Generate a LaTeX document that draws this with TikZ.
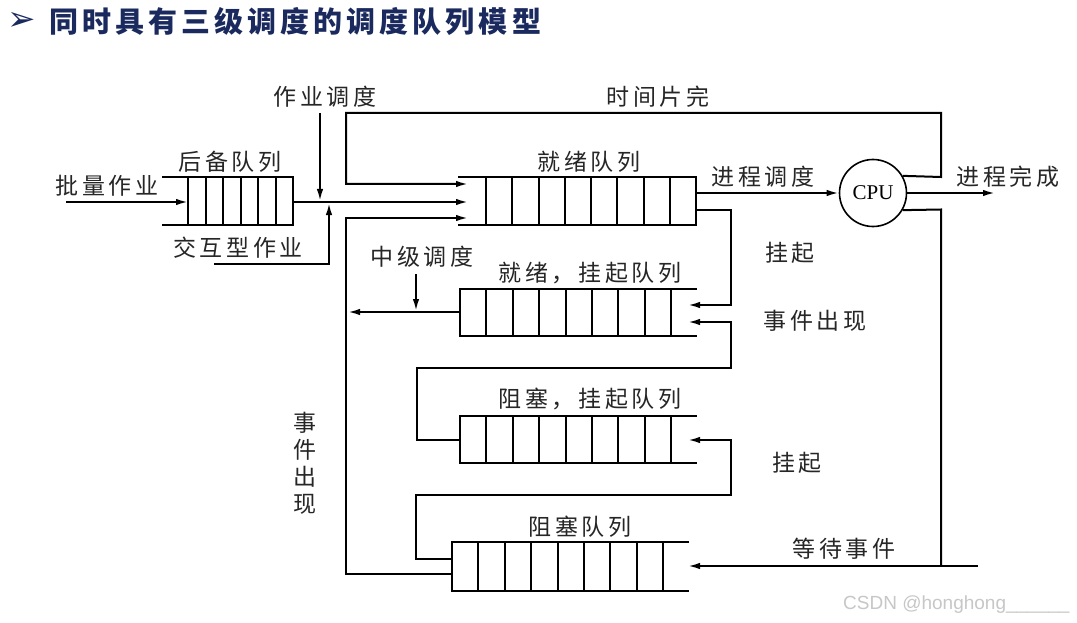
\documentclass[tikz,border=0pt]{standalone}
\usepackage{fontspec}
\usetikzlibrary{arrows.meta}
\newfontfamily\cjkfont{Noto Sans CJK SC}[LetterSpace=16]
\newfontfamily\titlecjk{Noto Sans CJK SC}[LetterSpace=14]
\newfontfamily\symfont{DejaVu Sans}
\newfontfamily\cpufont{Liberation Serif}
\newfontfamily\wmfont{Liberation Sans}
\definecolor{titlenavy}{RGB}{27,42,94}
\tikzset{
  lbl/.style={font=\cjkfont\fontsize{23}{27}\selectfont, text=black!85, inner sep=0pt},
  conn/.style={line width=2pt},
  arr/.style={line width=2pt, -{Latex[length=12pt,width=6.5pt]}},
  qline/.style={line width=2pt},
}
\begin{document}
\begin{tikzpicture}[x=1pt,y=-1pt]
\fill[white] (0,0) rectangle (1077,623);
\useasboundingbox (0,0) rectangle (1077,623);

% title
\node[text=titlenavy, font=\symfont\fontsize{34}{36}\selectfont, inner sep=0pt] (tarrow) at (22,21) {➢};
\node[text=titlenavy, font=\titlecjk\bfseries\fontsize{29}{32}\selectfont, inner sep=0pt, anchor=west] (title) at (49,21) {同时具有三级调度的调度队列模型};

% queues
% backup queue (open left, closed right)
\draw[qline] (162,177) -- (293,177) -- (293,225) -- (162,225);
\foreach \i in {0,...,5} \draw[qline] ({188+\i*17.5},177) -- ++(0,48);
% ready queue
\draw[qline] (458,177) -- (696,177) -- (696,225) -- (458,225);
\foreach \i in {0,...,7} \draw[qline] ({486+\i*26.25},177) -- ++(0,48);
% ready-suspended queue (closed left, open right)
\draw[qline] (697,289) -- (460,289) -- (460,336) -- (697,336);
\foreach \i in {1,...,8} \draw[qline] ({460+\i*26.375},289) -- ++(0,47);
% blocked-suspended queue
\draw[qline] (697,416) -- (460,416) -- (460,463) -- (697,463);
\foreach \i in {1,...,8} \draw[qline] ({460+\i*26.375},416) -- ++(0,47);
% blocked queue
\draw[qline] (689,542) -- (452,542) -- (452,591) -- (689,591);
\foreach \i in {1,...,8} \draw[qline] ({452+\i*26.375},542) -- ++(0,49);

% CPU
\node[draw, circle, line width=1.6pt, minimum size=67pt, inner sep=0pt, font=\cpufont\fontsize{21}{24}\selectfont] (cpu) at (873,193) {CPU};

% named points
\coordinate (batchin) at (66,202);
\coordinate (bkL) at (188,202);
\coordinate (bkR) at (293,202);
\coordinate (rdIn1) at (468,184);
\coordinate (rdIn2) at (468,202);
\coordinate (rdIn3) at (468,218);
\coordinate (jobtop) at (320,113);
\coordinate (jobhit) at (320,201);
\coordinate (intstart) at (214,264);
\coordinate (inthit) at (329,203);
\coordinate (rdOut) at (696,193);
\coordinate (rdOut2) at (696,210);
\coordinate (doneend) at (995,193);
\coordinate (rsIn1) at (688,305);
\coordinate (rsIn2) at (688,322);
\coordinate (rsOut) at (460,312);
\coordinate (midhit) at (348,312);
\coordinate (midtop) at (416,274);
\coordinate (midbot) at (416,311);
\coordinate (bsIn) at (688,440);
\coordinate (bsOut) at (460,440);
\coordinate (bqIn) at (688,566);
\coordinate (bqOut1) at (452,559);
\coordinate (bqOut2) at (452,574);
\coordinate (waitstart) at (978,566);

% connectors
\draw[arr] (batchin) -- (bkL);
\draw[arr] (bkR) -- (rdIn2);
\draw[arr] (jobtop) -- (jobhit);
\draw[arr] (intstart) -| (inthit);
\draw[arr] (cpu.30) -- (941,177) -- (941,113) -- (346,113) -- (346,184) -- (rdIn1);
\draw[arr] (rdOut) -- (cpu.west);
\draw[arr] (cpu.east) -- (doneend);
\draw[conn] (cpu.-30) -- (941,209.5) -- (941,566);
\draw[arr] (waitstart) -- (bqIn);
\draw[arr] (rdOut2) -- (731,210) -- (731,305) -- (rsIn1);
\draw[arr] (bsOut) -- (417,440) -- (417,368) -- (731,368) -- (731,322) -- (rsIn2);
\draw[arr] (bqOut1) -- (416,559) -- (416,495) -- (731,495) -- (731,440) -- (bsIn);
\draw[arr] (bqOut2) -- (346,574) -- (346,218) -- (rdIn3);
\draw[arr] (rsOut) -- (midhit);
\draw[arr] (midtop) -- (midbot);

% labels
\node[lbl] (l1) at (325,97) {作业调度};
\node[lbl] (l2) at (658,97) {时间片完};
\node[lbl] (l3) at (230,162) {后备队列};
\node[lbl] (l4) at (107,186) {批量作业};
\node[lbl] (l5) at (238,248) {交互型作业};
\node[lbl] (l6) at (589,162) {就绪队列};
\node[lbl] (l7) at (763,177) {进程调度};
\node[lbl] (l8) at (1008,177) {进程完成};
\node[lbl] (l9) at (422,257) {中级调度};
\node[lbl] (l10) at (590,273) {就绪，挂起队列};
\node[lbl] (l11) at (790,253) {挂起};
\node[lbl] (l12) at (815,321) {事件出现};
\node[lbl] (l13) at (590,399) {阻塞，挂起队列};
\node[lbl] (l14) at (797,463) {挂起};
\node[lbl] (l15) at (580,527) {阻塞队列};
\node[lbl] (l16) at (844,549) {等待事件};
\node[lbl, align=center] (l17) at (305,463) {事\\件\\出\\现};

% watermark
\node[text=black!22, font=\wmfont\fontsize{19}{22}\selectfont, inner sep=0pt, anchor=west] (wm) at (843,605) {CSDN @honghong\_\_\_\_\_\_};
\end{tikzpicture}
\end{document}
